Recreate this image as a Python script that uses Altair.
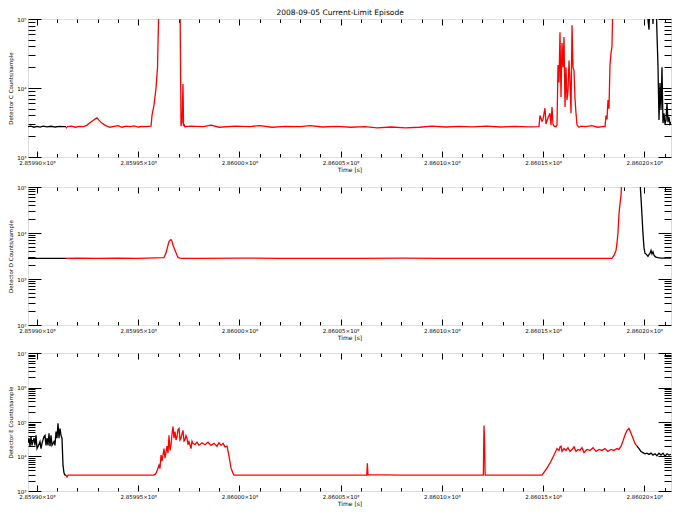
import altair as alt
import pandas as pd

T0 = 285990000  # seconds

# ---------------- Detector C ----------------
C_K1_T = [-445, -300, -150, 0, 150, 300, 500, 700, 900, 1100, 1300, 1433]
C_K1_V = [2750, 2800, 2700, 2780, 2720, 2800, 2740, 2790, 2720, 2780, 2750, 2760]

C_R_T = [1433, 1500, 1700, 1900, 2100, 2300, 2470, 2600, 2750, 2900, 2964, 3050, 3200, 3350, 3458,
         3600, 3800, 4000, 4200, 4400, 4600, 4800, 5000, 5200, 5400, 5632, 5681, 5780, 5879, 5953,
         6027, 7064, 7114, 7163, 7212, 7240, 7262, 7300, 7600, 8200, 8600, 9000, 9800, 10500, 11000,
         11600, 12300, 13000, 13500, 14100, 14800, 15500, 16200, 16800, 17500, 18200, 18900, 19500,
         20200, 20800, 21500, 22200, 22900, 23600, 24300, 24800, 24848, 24947, 24997, 25095, 25145,
         25244, 25343, 25392, 25441, 25491, 25540, 25639, 25688, 25738, 25787, 25836, 25886, 25935,
         25985, 26034, 26084, 26133, 26183, 26232, 26281, 26331, 26380, 26430, 26479, 26528, 26578,
         26627, 26676, 26775, 26874, 27100, 27400, 27700, 28000, 28060, 28109, 28158, 28208, 28257,
         28306, 28356, 28405, 28454, 28504]
C_R_V = [2600, 2750, 2800, 2700, 2780, 2750, 2900, 3100, 3350, 3600, 3700, 3450, 3100, 2900, 2800,
         2700, 2780, 2850, 2700, 2800, 2760, 2820, 2720, 2780, 2750, 2800, 4000, 5650, 10000, 20000,
         200000, 200000, 2800, 3200, 11400, 2800, 3000, 2750, 2800, 2750, 2900, 2700, 2800, 2750, 2850,
         2700, 2780, 2750, 2850, 2720, 2780, 2700, 2760, 2650, 2720, 2650, 2700, 2800,
         2720, 2780, 2740, 2800, 2720, 2780, 2740, 2750, 4000, 3300, 3500, 5100, 3000,
         3700, 4300, 2900, 5300, 3000, 2800, 2750, 2900, 21600, 12000, 64000, 7400, 45000,
         20000, 55000, 5300, 20000, 6700, 9000, 25000, 12000, 4300, 81000, 20000, 18000, 7000,
         4300, 2900, 2700, 2800, 2750, 2850, 2700, 2780, 2750, 4000, 3500, 6700, 5000,
         21600, 32000, 40000, 200000, 200000]

C_K2_T = [30000, 30134, 30183, 30233, 30282, 30381, 30430, 30480, 30578, 30628, 30677, 30727, 30776,
          30826, 30875, 30924, 30974, 31023, 31073, 31122, 31171, 31221, 31270, 31320]
C_K2_V = [200000, 200000, 98000, 70000, 200000, 200000, 85000, 200000, 200000, 60000, 21000, 3430, 11800,
          4800, 20000, 3100, 4300, 3000, 3430, 6000, 3200, 3800, 3000, 3200]

# ---------------- Detector D ----------------
D_K1_T = [-445, 0, 700, 1433]
D_K1_V = [2820, 2820, 2820, 2820]

D_R_T = [1433, 2000, 3000, 4000, 5000, 6274, 6373, 6471, 6521, 6570, 6620, 6669, 6718, 6817, 6916,
         6965, 7064, 7163, 8000, 10000, 12000, 14000, 16000, 18000, 20000, 22000, 24000, 26000,
         27500, 28400, 28504, 28603, 28652, 28701, 28751, 28800, 28850, 28899, 29200]
D_R_V = [2820, 2850, 2800, 2850, 2820, 2900, 3700, 5400, 6500, 7000, 7200, 6600, 5400, 4200, 3300,
         2950, 2850, 2820, 2800, 2850, 2820, 2800, 2820, 2850, 2800, 2820, 2800, 2820,
         2800, 2820, 3240, 4170, 6000, 10100, 26000, 43000, 64000, 200000, 200000]

D_K2_T = [29500, 29788, 29813, 29838, 29887, 29936, 29986, 30035, 30084, 30134, 30183, 30233, 30282,
          30332, 30381, 30430, 30480, 30529, 30578, 30677, 30826, 31023, 31320]
D_K2_V = [200000, 200000, 87000, 58000, 24000, 9700, 4800, 3600, 3500, 3300, 3100, 3400, 3600,
          4170, 3500, 3900, 3300, 3100, 3000, 2900, 2850, 2850, 2850]

# ---------------- Detector E ----------------
E_K1_T = [-445, -395, -346, -296, -247, -148, -99, -49, 0, 74, 148, 198, 247, 346, 395, 445, 494, 543,
          593, 642, 692, 741, 840, 889, 939, 988, 1037, 1087, 1136, 1186, 1235, 1284, 1334, 1383, 1433]
E_K1_V = [25000, 34000, 20000, 38000, 21000, 34000, 21000, 41000, 17000, 21000, 27000, 17000, 24000,
          38000, 41000, 21000, 34000, 21000, 47000, 20000, 41000, 21000, 27000, 21000, 53000, 34000,
          91000, 34000, 65000, 41000, 34000, 5600, 3300, 2900, 2900]

E_R_T = [1433, 1482, 1530, 2000, 3000, 4000, 5000, 5500, 5780, 5879, 5928, 6027, 6076, 6126, 6175,
         6274, 6323, 6422, 6471, 6521, 6570, 6620, 6669, 6718, 6768, 6817, 6867, 6916, 6965, 7015,
         7064, 7114, 7163, 7212, 7262, 7311, 7360, 7410, 7459, 7509, 7608, 7657, 7706, 7805, 7904,
         8003, 8151, 8299, 8447, 8596, 8744, 8892, 8991, 9090, 9189, 9288, 9386, 9485, 9584, 9682,
         9732, 11000, 13000, 15000, 16290, 16320, 16350, 18000, 20000, 22050, 22082, 22110, 22140,
         24000, 24947, 25095, 25194, 25293, 25392, 25540, 25688, 25787, 25836, 25886, 25935, 26034,
         26133, 26232, 26331, 26430, 26528, 26627, 26726, 26824, 26923, 27022, 27170, 27318, 27466,
         27615, 27763, 27911, 28059, 28208, 28356, 28504, 28652, 28751, 28850, 28948, 29047, 29146,
         29245, 29344, 29442, 29541, 29640]
E_R_V = [2900, 2530, 2900, 2880, 2900, 2880, 2900, 2880, 2900, 3200, 3800, 5600, 4500, 11000, 7300,
         17000, 8900, 20000, 12500, 41000, 15000, 21000, 45000, 74000, 34000, 53000, 30000, 38000, 60000, 65000,
         30000, 34000, 45000, 57000, 28000, 30000, 40000, 34000, 22000, 27000, 17000, 28000, 24000, 22000, 26000,
         21000, 25000, 22000, 26000, 21000, 24000, 20000, 25000, 21000, 24000, 19000, 20000, 10200, 4600, 3300,
         2900, 2880, 2900, 2880, 2900, 6400, 3000, 2880, 2900, 2900, 79000, 30000, 2900,
         2880, 2900, 3800, 4600, 5800, 7300, 11000, 17000, 15000, 19000, 20000, 14000, 17000,
         15000, 18000, 14000, 16000, 19000, 14000, 16000, 15000, 18000, 13000, 16000, 15000, 18000,
         14000, 16000, 15000, 17000, 14000, 16000, 15000, 17000, 16000, 20000, 28000, 42000, 57000,
         65000, 47000, 34000, 24000, 20000]

E_K2_T = [29640, 29739, 29838, 29936, 30035, 30134, 30233, 30332, 30430, 30529, 30628, 30727, 30826,
          30924, 31023, 31122, 31221, 31320]
E_K2_V = [20000, 17000, 14000, 13000, 12000, 12500, 11500, 12500, 11000, 12000, 10500, 12500, 11000,
          12500, 10200, 12000, 11000, 11500]

PANELS = [
    ("C", 3, 5, [(C_K1_T, C_K1_V, "black"), (C_R_T, C_R_V, "red"), (C_K2_T, C_K2_V, "black")]),
    ("D", 2, 5, [(D_K1_T, D_K1_V, "black"), (D_R_T, D_R_V, "red"), (D_K2_T, D_K2_V, "black")]),
    ("E", 3, 7, [(E_K1_T, E_K1_V, "black"), (E_R_T, E_R_V, "red"), (E_K2_T, E_K2_V, "black")]),
]

W, H = 643, 138
XDOM = [T0 - 445, T0 + 31320]
XMAJOR = list(range(T0, T0 + 30001, 5000))
XALL = list(range(T0, T0 + 31001, 1000))
FONT = "DejaVu Sans"
SUP = "['⁰','¹','²','³','⁴','⁵','⁶','⁷','⁸','⁹']"
XMAJ_TEST = "datum.value % 5000 === 0"
YMAJ_TEST = "abs(log(datum.value)/LN10 - round(log(datum.value)/LN10)) < 0.000001"


def panel(letter, lo, hi, segs):
    rows = []
    for i, (ts, vs, col) in enumerate(segs):
        for t, v in zip(ts, vs):
            rows.append({"t": T0 + t, "v": v, "color": col, "seg": i})
    df = pd.DataFrame(rows)
    decades = [10 ** e for e in range(lo, hi + 1)]
    yall = []
    for e in range(lo, hi):
        for m in range(1, 10):
            yall.append(m * 10 ** e)
    yall.append(10 ** hi)

    xs = alt.Scale(domain=XDOM, nice=False, zero=False)
    ys = alt.Scale(type="log", domain=[10 ** lo, 10 ** hi], nice=False)
    base = alt.Chart(df)

    line = base.mark_line(strokeWidth=1.3, clip=True).encode(
        x=alt.X("t:Q", scale=xs, axis=alt.Axis(
            values=XMAJOR, labelExpr="format(datum.value/1e8, '.5f') + '×10⁸'",
            ticks=False, domain=False, grid=False, title="Time [s]",
            labelFontSize=5.5, labelFont=FONT, labelColor="black", labelPadding=3,
            labelFlush=False, labelOverlap=False,
            titleFontSize=6, titleFont=FONT, titleColor="#000000", titleFontWeight="normal", titlePadding=1)),
        y=alt.Y("v:Q", scale=ys, axis=alt.Axis(
            values=decades, labelExpr="'10' + " + SUP + "[round(log(datum.value)/LN10)]",
            ticks=False, domain=False, grid=False, title=f"Detector {letter} Counts/sample",
            labelFontSize=5.5, labelFont=FONT, labelColor="black", labelPadding=2,
            labelFlush=False, labelOverlap=False,
            titleFontSize=5.5, titleFont=FONT, titleColor="#000000", titleFontWeight="normal", titlePadding=3)),
        color=alt.Color("color:N", scale=alt.Scale(domain=["black", "red"], range=["#000000", "#ff0000"]),
                        legend=None),
        detail="seg:N",
    )

    def tick_layer(xorient, yorient):
        return base.mark_line(opacity=0, clip=True).encode(
            x=alt.X("t:Q", scale=xs, axis=alt.Axis(
                orient=xorient, offset=-H, values=XALL, labels=False, domain=False, grid=False, title="",
                tickColor="black", tickWidth=1,
                tickSize={"condition": {"test": XMAJ_TEST, "value": 6}, "value": 3.5})),
            y=alt.Y("v:Q", scale=ys, axis=alt.Axis(
                orient=yorient, offset=-W, values=yall, labels=False, domain=False, grid=False, title="",
                tickColor="black", tickWidth=1,
                tickSize={"condition": {"test": YMAJ_TEST, "value": 13}, "value": 7})),
            detail="seg:N",
        )

    return alt.layer(line, tick_layer("top", "right"), tick_layer("bottom", "left")).resolve_axis(
        x="independent", y="independent").properties(width=W, height=H)


pc, pd_, pe = [panel(*p) for p in PANELS]
chart = alt.vconcat(alt.vconcat(pc, pd_, spacing=11), pe, spacing=9).properties(
    title=alt.TitleParams("2008-09-05 Current-Limit Episode", fontSize=7.5, font=FONT,
                          fontWeight="normal", color="black", anchor="middle", offset=0),
    padding={"left": 8, "top": 9, "right": 5, "bottom": 5},
).configure_view(stroke="black", strokeWidth=1.2).configure_axis(
    titleColor="#000000", labelColor="#000000").configure(background="white")

chart.save("out.html", embed_options={"renderer": "svg", "actions": False})
